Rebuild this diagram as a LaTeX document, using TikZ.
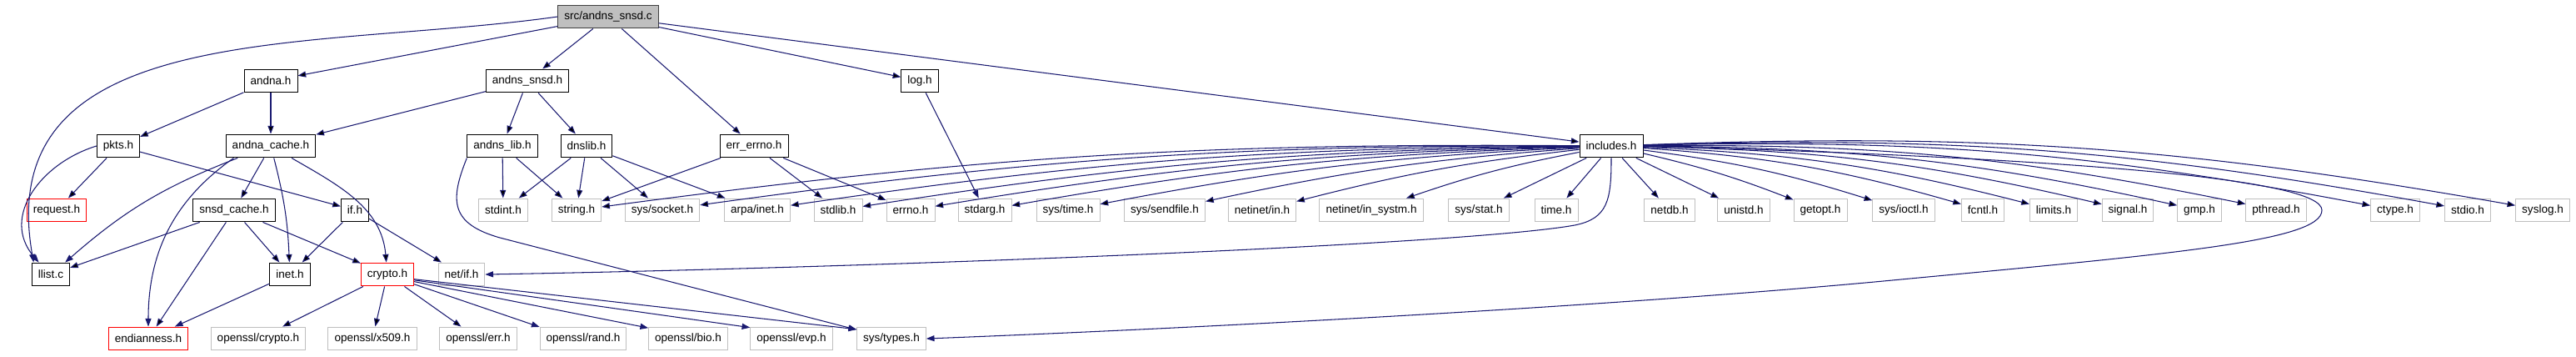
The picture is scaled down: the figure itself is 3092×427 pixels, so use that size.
\documentclass[tikz,border=0pt]{standalone}
\usepackage{fontspec}
\setsansfont{Liberation Sans}
\usetikzlibrary{arrows.meta}

\definecolor{edgeblue}{HTML}{191970}
\definecolor{extgray}{HTML}{BFBFBF}
\definecolor{rootfill}{HTML}{BFBFBF}
\definecolor{missred}{HTML}{FF0000}

\begin{document}
\begin{tikzpicture}[
  x=0.02cm,
  y=0.02cm,
  font=\sffamily\fontsize{7.7}{9}\selectfont,
  file/.style={draw,line width=.55pt,fill=white,inner xsep=4.3pt,inner ysep=0pt,
    minimum height=15.9pt},
  docfile/.style={file,draw=black},
  extfile/.style={file,draw=extgray},
  missfile/.style={file,draw=missred},
  rootfile/.style={file,draw=black!75,fill=rootfill},
  dep/.style={draw=edgeblue,line width=.6pt,-{Triangle[length=5.5pt,width=4pt]}}
]
\useasboundingbox (0,0) rectangle (3092,-427);

% top file
\node[rootfile] (src) at (730,-20) {src/andns\_snsd.c};

% second row
\node[docfile] (andna) at (325,-97) {andna.h};
\node[docfile] (snsdh) at (633,-97) {andns\_snsd.h};
\node[docfile] (logh) at (1104,-97) {log.h};

% third row
\node[docfile] (pkts) at (142,-175) {pkts.h};
\node[docfile] (acache) at (325,-175) {andna\_cache.h};
\node[docfile] (alib) at (603,-175) {andns\_lib.h};
\node[docfile] (dnslib) at (704,-175) {dnslib.h};
\node[docfile] (errh) at (905,-175) {err\_errno.h};
\node[docfile] (incl) at (1934,-175) {includes.h};

% fourth row
\node[missfile] (request) at (68,-252) {request.h};
\node[docfile] (scache) at (281,-252) {snsd\_cache.h};
\node[docfile] (ifh) at (426,-252) {if.h};
\node[extfile] (stdint) at (604,-252) {stdint.h};
\node[extfile] (stringh) at (692,-252) {string.h};
\node[extfile] (socket) at (795,-252) {sys/socket.h};
\node[extfile] (arpa) at (909,-252) {arpa/inet.h};
\node[extfile] (stdlib) at (1006,-252) {stdlib.h};
\node[extfile] (errnoh) at (1093,-252) {errno.h};
\node[extfile] (stdarg) at (1182,-252) {stdarg.h};
\node[extfile] (systime) at (1282,-252) {sys/time.h};
\node[extfile] (sendfile) at (1398,-252) {sys/sendfile.h};
\node[extfile] (netin) at (1515,-252) {netinet/in.h};
\node[extfile] (insystm) at (1646,-252) {netinet/in\_systm.h};
\node[extfile] (sysstat) at (1775,-252) {sys/stat.h};
\node[extfile] (timeh) at (1868,-252) {time.h};
\node[extfile] (netdb) at (2004,-252) {netdb.h};
\node[extfile] (unistd) at (2093,-252) {unistd.h};
\node[extfile] (getopt) at (2185,-252) {getopt.h};
\node[extfile] (ioctl) at (2285,-252) {sys/ioctl.h};
\node[extfile] (fcntl) at (2380,-252) {fcntl.h};
\node[extfile] (limits) at (2465,-252) {limits.h};
\node[extfile] (signal) at (2554,-252) {signal.h};
\node[extfile] (gmp) at (2640,-252) {gmp.h};
\node[extfile] (pthread) at (2732,-252) {pthread.h};
\node[extfile] (ctype) at (2875,-252) {ctype.h};
\node[extfile] (stdio) at (2962,-252) {stdio.h};
\node[extfile] (syslog) at (3052,-252) {syslog.h};

% fifth row
\node[docfile] (llist) at (61,-329) {llist.c};
\node[docfile] (inet) at (348,-329) {inet.h};
\node[missfile] (crypto) at (465,-329) {crypto.h};
\node[extfile] (netif) at (554,-329) {net/if.h};

% bottom row
\node[missfile] (endian) at (178,-406) {endianness.h};
\node[extfile] (oscrypto) at (310,-406) {openssl/crypto.h};
\node[extfile] (osx509) at (447,-406) {openssl/x509.h};
\node[extfile] (oserr) at (574,-406) {openssl/err.h};
\node[extfile] (osrand) at (700,-406) {openssl/rand.h};
\node[extfile] (osbio) at (826,-406) {openssl/bio.h};
\node[extfile] (osevp) at (950,-406) {openssl/evp.h};
\node[extfile] (systypes) at (1070,-406) {sys/types.h};

% includes of the top file
\draw[dep] (src) edge (andna) edge (snsdh) edge (errh) edge (logh) edge (incl);
\draw[dep] (src.west) to[out=188,in=100,looseness=1.1] (llist.145);

\draw[dep] (andna) edge (pkts) edge (acache);
\draw[dep] (snsdh) edge (acache) edge (alib) edge (dnslib);

\draw[dep] (pkts.west) .. controls (50,-195) and (0,-260) .. (llist.135);
\draw[dep] (pkts) edge (request) edge (ifh);

\draw[dep] (acache.-160) to[bend right=10] (llist.40);
\draw[dep] (acache.-162) to[out=215,in=90] (endian);
\draw[dep] (acache) edge (scache)
  edge[bend left=6] (inet)
  edge[out=-30,in=95] (crypto);
\draw[dep] (scache) edge (llist) edge (endian) edge (inet) edge (crypto);
\draw[dep] (ifh) edge (inet) edge (netif);
\draw[dep] (inet) -- (endian);

\draw[dep] (crypto) edge (oscrypto) edge (osx509) edge (oserr);
\draw[dep] (crypto.-20) -- (osrand.165);
\draw[dep] (crypto.-15) -- (osbio.165);
\draw[dep] (crypto.-12) -- (osevp.165);
\draw[dep] (crypto.-10) -- (systypes.165);

\draw[dep] (alib) edge (stdint) edge (stringh);
\draw[dep] (alib.south west) .. controls (540,-240) and (540,-268) .. (600,-285)
  -- (systypes);
\draw[dep] (dnslib) edge (stdint) edge (stringh) edge (socket) edge (arpa);
\draw[dep] (errh) edge (stringh) edge (stdlib) edge (errnoh);
\draw[dep] (logh) -- (stdarg);

% fan out of includes.h
\draw[dep] (incl) edge[bend right=4] (stringh) edge[bend right=4] (socket)
  edge[bend right=4] (arpa) edge[bend right=4] (stdlib)
  edge[bend right=4] (errnoh) edge[bend right=4] (stdarg)
  edge[bend right=4] (systime) edge[bend right=4] (sendfile)
  edge[bend right=4] (netin) edge[bend right=4] (insystm)
  edge (sysstat) edge (timeh);
\draw[dep] (incl) edge (netdb) edge (unistd) edge[bend left=4] (getopt)
  edge[bend left=5] (ioctl) edge[bend left=6] (fcntl)
  edge[bend left=6] (limits) edge[bend left=6] (signal)
  edge[bend left=6] (gmp) edge[bend left=6] (pthread)
  edge[bend left=6] (ctype) edge[bend left=6] (stdio)
  edge[bend left=6] (syslog);
\draw[dep] (incl.south) .. controls (1934,-240) and (1930,-262) .. (1890,-270)
  .. controls (1750,-295) and (1000,-322) .. (netif.east);
\draw[dep] (incl.east) .. controls (2500,-190) and (2787,-215) .. (2787,-252)
  .. controls (2787,-290) and (2600,-305) .. (2250,-338)
  .. controls (1900,-370) and (1400,-395) .. (systypes.east);
\end{tikzpicture}
\end{document}
